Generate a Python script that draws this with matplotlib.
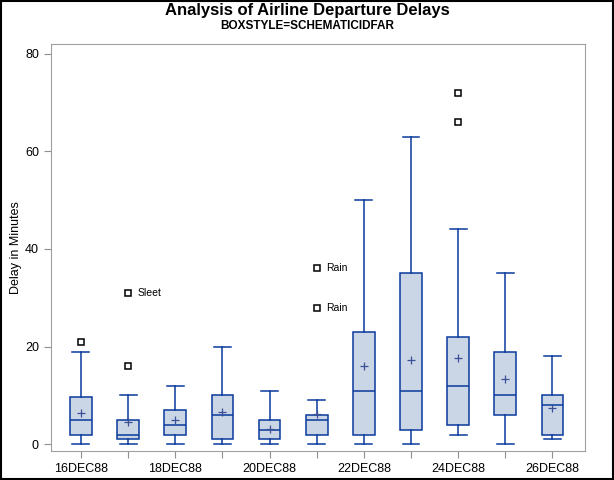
import matplotlib.pyplot as plt
from matplotlib.patches import Rectangle

plt.rcParams['font.family'] = ['Liberation Sans', 'DejaVu Sans']

days = ['16DEC88', '17DEC88', '18DEC88', '19DEC88', '20DEC88', '21DEC88',
        '22DEC88', '23DEC88', '24DEC88', '25DEC88', '26DEC88']
whislo = [0, 0, 0, 0, 0, 0, 0, 0, 2, 0, 1]
q1 = [2, 1, 2, 1, 1, 2, 2, 3, 4, 6, 2]
med = [5, 2, 4, 6, 3, 5, 11, 11, 12, 10, 8]
q3 = [9.6, 5, 7, 10, 5, 6, 23, 35, 22, 19, 10]
whishi = [19, 10, 12, 20, 11, 9, 50, 63, 44, 35, 18]
means = [6.5, 4.6, 4.9, 6.7, 3.2, 6.2, 16.0, 17.2, 17.6, 13.3, 7.4]
fliers = [[21], [16, 31], [], [], [], [36, 28], [], [], [72, 66], [], []]
flier_labels = {(1, 31): 'Sleet', (5, 36): 'Rain', (5, 28): 'Rain'}

edge = '#0a3a9c'
fill = '#cad5e5'

fig = plt.figure(figsize=(6.14, 4.8), dpi=100)
ax = fig.add_axes([0.0826, 0.0598, 0.8702, 0.8479])

stats = []
for i in range(len(days)):
    stats.append(dict(whislo=whislo[i], q1=q1[i], med=med[i], q3=q3[i],
                      whishi=whishi[i], mean=means[i], fliers=fliers[i]))

pos = list(range(len(days)))
ax.bxp(stats, positions=pos, widths=0.46, patch_artist=True, showmeans=True,
       boxprops=dict(facecolor=fill, edgecolor=edge, linewidth=1.1),
       medianprops=dict(color=edge, linewidth=1.1),
       whiskerprops=dict(color=edge, linewidth=1.1),
       capprops=dict(color=edge, linewidth=1.1),
       capwidths=0.36,
       meanprops=dict(marker='+', markeredgecolor='#3b4f96', markersize=6,
                      markeredgewidth=0.9),
       flierprops=dict(marker='s', markerfacecolor='white', markeredgecolor='black',
                       markersize=5, markeredgewidth=1.1))

for (i, v), lab in flier_labels.items():
    ax.annotate(lab, (pos[i], v), xytext=(7, 0), textcoords='offset points',
                va='center', ha='left', fontsize=7.5)

ax.set_xlim(-0.64, 10.69)
ax.set_ylim(-1.43, 81.9)
ax.set_xticks(pos)
ax.set_xticklabels([d if i % 2 == 0 else '' for i, d in enumerate(days)], fontsize=9)
ax.set_yticks([0, 20, 40, 60, 80])
ax.tick_params(axis='y', labelsize=9)
ax.tick_params(colors='#909090', labelcolor='black', length=5)
for s in ax.spines.values():
    s.set_color('#a0a0a0')
ax.set_ylabel('Delay in Minutes', fontsize=9, labelpad=2)

fig.text(0.5, 0.979, 'Analysis of Airline Departure Delays', ha='center', va='center',
         fontsize=12, fontweight='bold')
fig.text(0.5, 0.946, 'BOXSTYLE=SCHEMATICIDFAR', ha='center', va='center',
         fontsize=8.5, fontweight='bold')

fig.patches.append(Rectangle((0.001, 0.002), 0.997, 0.996, transform=fig.transFigure,
                             fill=False, edgecolor='black', linewidth=1.5))

fig.savefig('out.png', dpi=100)
